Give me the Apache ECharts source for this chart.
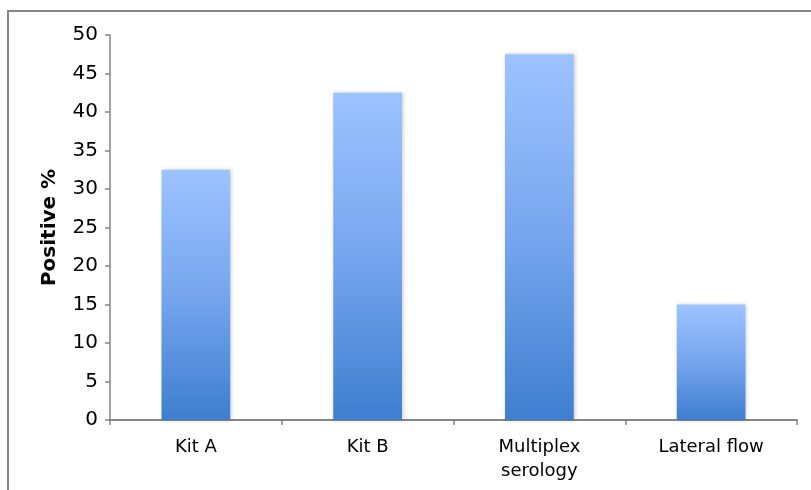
<!DOCTYPE html>
<html>
<head>
<meta charset="utf-8">
<script src="https://cdn.jsdelivr.net/npm/echarts@6/dist/echarts.min.js"></script>
<style>
  html, body { margin: 0; padding: 0; background: #fff; }
  #chart { width: 811px; height: 490px; }
</style>
</head>
<body>
<div id="chart"></div>
<script>
// Test categories and share of positive samples
const categories = ['Kit A', 'Kit B', 'Multiplex\nserology', 'Lateral flow'];
const positivePct = [32.5, 42.5, 47.5, 15];
const yTicks = { min: 0, max: 50, interval: 5 };

const chart = echarts.init(document.getElementById('chart'), null, { renderer: 'canvas' });

const axisGray = '#868686';
const font = '"DejaVu Sans", sans-serif';

chart.setOption({
  animation: false,
  backgroundColor: '#fff',
  graphic: [{
    type: 'rect',
    shape: { x: 8, y: 11, width: 830, height: 520 },
    style: { fill: 'none', stroke: axisGray, lineWidth: 2 },
    silent: true
  }],
  grid: { left: 110, right: 14, top: 35, bottom: 70 },
  xAxis: {
    type: 'category',
    data: categories,
    axisLine: { show: true, lineStyle: { color: axisGray, width: 2 } },
    axisTick: { show: true, length: 5, lineStyle: { color: axisGray, width: 1.5 } },
    axisLabel: { color: '#000', fontFamily: font, fontSize: 18, margin: 15, lineHeight: 24 }
  },
  yAxis: {
    type: 'value',
    min: yTicks.min,
    max: yTicks.max,
    interval: yTicks.interval,
    name: 'Positive %',
    nameLocation: 'middle',
    nameGap: 50,
    nameRotate: 90,
    nameTextStyle: { color: '#000', fontFamily: font, fontSize: 20, fontWeight: 'bold' },
    axisLine: { show: true, lineStyle: { color: axisGray, width: 1.5 } },
    axisTick: { show: true, length: 5, lineStyle: { color: axisGray, width: 1.5 } },
    axisLabel: { color: '#000', fontFamily: font, fontSize: 20, margin: 12 },
    splitLine: { show: false }
  },
  series: [{
    type: 'bar',
    data: positivePct,
    barWidth: '40%',
    itemStyle: {
      color: new echarts.graphic.LinearGradient(0, 0, 0, 1, [
        { offset: 0, color: '#9DC3FF' },
        { offset: 0.5, color: '#76A5EE' },
        { offset: 1, color: '#3E7ECF' }
      ], false),
      shadowBlur: 4,
      shadowColor: 'rgba(0,0,0,0.22)',
      shadowOffsetX: 1,
      shadowOffsetY: 0
    }
  }]
});
</script>
</body>
</html>
